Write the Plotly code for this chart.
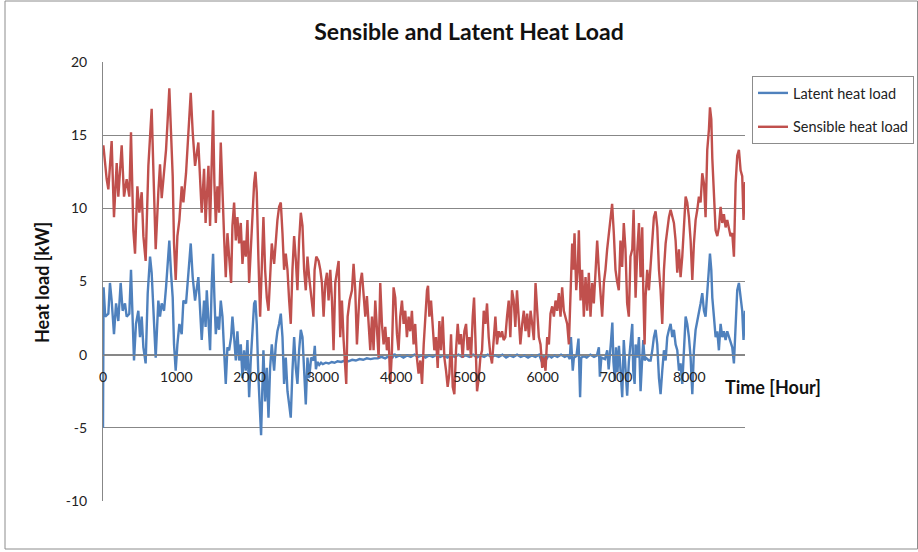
import plotly.graph_objects as go

# ---------------- data (hour, kW) ----------------
latent_points = [
    (0, -5.0), (8, 4.6), (30, 2.6), (73, 2.8), (95, 4.9), (118, 3.7), (150, 1.4), (178, 3.5),
    (209, 2.3), (241, 4.9), (268, 3.0), (300, 3.5), (323, 2.6), (359, 2.8), (382, 5.8), (405, 2.6),
    (423, -0.4), (450, 2.1), (482, 3.0), (505, 1.2), (528, 2.6), (551, 0.5), (582, -0.6), (610, 4.2),
    (642, 6.7), (664, 5.6), (687, 3.5), (719, -0.2), (755, 3.7), (778, 2.6), (801, 3.5), (833, 3.0),
    (860, 4.6), (883, 6.0), (905, 7.8), (928, 5.6), (951, 3.9), (969, 0.7), (992, -1.1), (1015, 0.7),
    (1042, 2.1), (1074, 1.4), (1097, 3.7), (1133, 3.5), (1165, 5.6), (1197, 7.6), (1224, 5.3),
    (1256, 3.7), (1301, 5.3), (1324, 3.0), (1347, 1.0), (1379, 3.7), (1400, 1.9), (1416, 4.4),
    (1439, 1.9), (1461, 0.3), (1484, 4.9), (1502, 6.9), (1520, 3.9), (1539, 1.4), (1561, 2.6),
    (1584, 1.7), (1607, 3.7), (1630, 2.6), (1652, 0.3), (1675, -2.0), (1698, 0.5), (1721, 0.3),
    (1748, 1.2), (1766, 2.6), (1789, 1.2), (1812, -0.4), (1834, 1.6), (1857, -0.4), (1880, 0.7),
    (1903, -1.6), (1925, 0.3), (1948, -1.1), (1971, 1.0), (1994, -2.9), (2016, -0.4), (2039, 1.2),
    (2062, 3.5), (2080, 3.7), (2098, 2.1), (2121, -1.6), (2144, -4.3), (2157, -5.5), (2176, -2.0),
    (2189, 0.3), (2212, -3.2), (2235, -0.9), (2258, -4.3), (2280, -0.9), (2303, 0.7), (2335, -1.1),
    (2358, 0.7), (2380, 1.6), (2403, 2.1), (2426, 2.8), (2449, 1.2), (2471, -2.0), (2494, -0.2),
    (2517, -2.5), (2540, -3.4), (2562, -4.3), (2585, -1.1), (2608, 1.2), (2631, -0.9), (2653, -2.0),
    (2676, 0.3), (2699, 1.7), (2722, 1.2), (2744, -1.6), (2767, -3.4), (2790, -0.2), (2813, -1.6),
    (2840, -0.2), (2872, -0.4),
    (2890, 0.6), (2905, -1.0), (2925, -0.5), (2950, -0.7), (2975, -0.55), (3000, -0.65), (3040, -0.55),
    (3080, -0.6), (3120, -0.5), (3160, -0.55), (3200, -0.45), (3250, -0.5), (3300, -0.4), (3350, -0.45),
    (3400, -0.35), (3450, -0.4), (3500, -0.3), (3550, -0.35), (3600, -0.25), (3650, -0.3),
    (3700, -0.25), (3750, -0.25), (3800, -0.15), (3850, -0.25), (3900, -0.1), (3950, -0.2), (3980, 0.05),
    (4000, -0.15), (4050, -0.05), (4100, -0.2), (4150, -0.05), (4200, -0.15), (4250, 0.0), (4300, -0.15),
    (4350, -0.05), (4400, -0.2), (4450, -0.05), (4500, -0.15), (4550, 0.0), (4600, -0.15), (4650, -0.05),
    (4700, -0.2), (4750, -0.05), (4800, -0.15), (4850, 0.0), (4900, -0.15), (4950, -0.05), (5000, -0.15),
    (5050, 0.0), (5100, -0.2), (5150, -0.05), (5200, -0.15), (5250, 0.0), (5300, -0.15), (5350, -0.05),
    (5400, -0.15), (5450, 0.0), (5500, -0.2), (5550, -0.05), (5600, -0.15), (5650, 0.0), (5700, -0.15),
    (5750, -0.05), (5800, -0.2), (5850, -0.05), (5900, -0.15), (5950, 0.0), (5990, -0.5), (6010, -0.1),
    (6040, -0.4), (6080, -0.05), (6120, -0.2), (6160, -0.05), (6200, -0.15), (6250, 0.0), (6300, -0.15),
    (6340, -0.05), (6370, -0.3), (6385, 1.2), (6400, -0.2), (6410, -1.1), (6425, -0.2), (6460, -0.1),
    (6488, 1.1), (6500, -1.0), (6510, -2.9), (6525, -0.2), (6560, -0.1), (6600, -0.2), (6650, 0.0),
    (6700, -0.15), (6740, -0.05), (6766, 0.5), (6780, -1.5), (6800, -0.2), (6850, -0.3), (6880, 0.3),
    (6900, -1.0), (6930, 0.8), (6950, 2.2), (6965, -0.5), (6985, -1.8), (7000, 0.5), (7020, -1.2),
    (7040, 0.6), (7061, -0.8), (7085, -2.9), (7106, 1.0), (7130, -0.8), (7152, -2.8), (7175, -0.5),
    (7197, 0.7), (7222, 2.1), (7235, -1.1), (7254, -2.0), (7267, 0.7), (7290, -0.2), (7313, 1.2),
    (7335, -2.5), (7358, -0.2), (7372, 1.0), (7390, -0.4), (7404, -0.2), (7449, -0.4), (7472, -0.4),
    (7495, 0.3), (7517, 1.2), (7540, 1.7), (7563, 0.7), (7586, -1.6), (7608, -2.7), (7631, -1.1),
    (7654, 0.3), (7677, -0.4), (7699, 1.2), (7722, 1.7), (7745, 2.1), (7768, 1.2), (7790, 1.7),
    (7813, 0.7), (7836, 0.3), (7859, -1.1), (7881, -0.6), (7904, -2.0), (7927, 0.7), (7950, 2.6),
    (7972, 2.1), (7995, 1.2), (8018, -0.2), (8041, -2.7), (8063, 0.3), (8086, 1.7), (8109, 2.3),
    (8131, 2.8), (8154, 3.5), (8177, 4.2), (8200, 3.0), (8222, 2.6), (8245, 4.4), (8268, 5.8),
    (8282, 6.9), (8300, 5.8), (8314, 3.9), (8336, 2.6), (8359, 1.2), (8382, 1.6), (8404, 0.3),
    (8427, 2.1), (8450, 1.2), (8472, 1.6), (8495, 1.0), (8518, 1.6), (8541, 1.2), (8563, 1.0),
    (8586, 0.5), (8609, -0.6), (8632, 2.6), (8654, 4.4), (8677, 4.9), (8700, 3.7), (8722, 3.0),
    (8740, 1.0), (8760, 3.0),
]

sensible_points = [
    (0, 14.0), (5, 14.3), (50, 12.0), (73, 11.3), (118, 14.6), (150, 9.4), (187, 13.1), (209, 10.8),
    (255, 14.3), (287, 10.8), (323, 12.0), (359, 10.8), (382, 15.2), (414, 8.5), (437, 6.9), (469, 11.5),
    (496, 9.7), (528, 11.1), (551, 8.1), (582, 6.4), (619, 12.9), (642, 15.4), (664, 16.8), (687, 12.7),
    (719, 7.2), (755, 11.1), (778, 13.0), (801, 10.7), (833, 12.4), (860, 14.0), (883, 16.1), (905, 18.2),
    (928, 15.2), (951, 12.2), (969, 7.6), (992, 5.1), (1015, 8.1), (1042, 9.2), (1074, 11.5),
    (1097, 10.4), (1133, 12.4), (1165, 15.2), (1197, 17.9), (1224, 15.2), (1256, 12.9), (1301, 14.5),
    (1324, 11.7), (1347, 9.7), (1379, 12.7), (1400, 9.0), (1420, 11.1), (1439, 12.9), (1461, 8.8),
    (1484, 14.7), (1502, 16.7), (1520, 11.7), (1539, 9.0), (1561, 11.5), (1584, 9.7), (1607, 14.5),
    (1630, 10.6), (1652, 8.1), (1675, 5.3), (1698, 8.3), (1721, 6.7), (1748, 4.9), (1766, 8.8),
    (1789, 10.4), (1812, 7.8), (1834, 9.4), (1857, 7.6), (1880, 9.0), (1903, 6.2), (1925, 7.8),
    (1948, 6.7), (1971, 9.2), (1994, 4.9), (2016, 7.2), (2039, 8.8), (2062, 11.7), (2080, 12.5),
    (2098, 11.1), (2121, 6.5), (2144, 2.6), (2167, 6.0), (2189, 9.4), (2212, 5.8), (2235, 3.9),
    (2258, 3.0), (2280, 5.8), (2303, 7.6), (2335, 6.2), (2358, 8.1), (2380, 9.2), (2403, 10.1),
    (2426, 10.4), (2449, 8.3), (2471, 5.8), (2494, 6.9), (2517, 5.8), (2540, 3.7), (2562, 2.1),
    (2585, 5.8), (2608, 8.1), (2631, 6.5), (2653, 4.4), (2676, 7.8), (2699, 9.7), (2722, 8.8),
    (2744, 5.8), (2767, 4.4), (2790, 6.7), (2813, 5.3), (2840, 3.9), (2872, 2.6), (2887, 5.8),
    (2910, 6.7), (2942, 6.4), (2965, 5.8), (2987, 4.9), (3010, 2.6), (3033, 4.9), (3056, 5.6),
    (3078, 3.7), (3101, 5.8), (3124, 3.7), (3146, 0.3), (3169, 4.9), (3192, 5.8), (3215, 6.4),
    (3237, 1.2), (3260, 3.7), (3283, 1.0), (3319, -2.0), (3338, 2.6), (3365, 3.7), (3397, 4.4),
    (3419, 6.2), (3442, 4.4), (3465, 0.7), (3488, 3.0), (3510, 4.9), (3533, 5.6), (3556, 4.0),
    (3579, 2.6), (3601, 4.0), (3624, 1.9), (3647, 0.3), (3670, 2.6), (3692, 0.3), (3715, 3.7),
    (3738, 1.6), (3761, -0.2), (3783, 4.9), (3806, 2.1), (3829, 0.7), (3852, 1.9), (3874, 0.3),
    (3897, 1.2), (3920, -2.0), (3943, 0.3), (3965, 4.6), (3988, 3.9), (4011, 1.4), (4033, 0.3),
    (4056, 2.6), (4079, 3.7), (4102, 2.1), (4124, 3.0), (4147, 1.2), (4170, 2.6), (4192, 1.6),
    (4215, 3.0), (4238, 0.7), (4260, 2.1), (4283, -0.2), (4306, -1.3), (4330, -0.4), (4353, -2.0),
    (4376, 0.7), (4399, 2.6), (4421, 4.4), (4435, 4.7), (4453, 2.6), (4476, 3.7), (4499, 1.9),
    (4521, 0.3), (4544, 1.2), (4567, -0.9), (4590, 2.3), (4612, 0.3), (4635, 2.6), (4658, -0.2),
    (4681, -1.1), (4703, -2.2), (4726, -1.3), (4749, 1.4), (4772, -2.2), (4794, -2.7), (4817, 0.3),
    (4840, 2.1), (4862, 0.7), (4885, 1.4), (4908, -0.2), (4931, 1.6), (4954, 2.1), (4976, 0.3),
    (4999, 1.2), (5022, -0.2), (5045, 2.6), (5063, 3.9), (5081, 1.2), (5104, -2.5), (5127, -1.6),
    (5149, -0.2), (5172, 0.3), (5195, 3.0), (5217, 2.1), (5240, 3.5), (5263, 1.2), (5285, 0.0),
    (5308, -0.6), (5331, 1.4), (5354, 2.6), (5376, 0.7), (5399, 1.6), (5422, 1.2), (5445, 1.6),
    (5467, 1.0), (5490, 1.2), (5513, 2.6), (5536, 3.7), (5558, 1.2), (5581, 4.4), (5604, 3.7),
    (5626, 1.9), (5649, 4.4), (5672, 2.6), (5695, 0.7), (5720, 2.1), (5742, 3.0), (5765, 1.6),
    (5788, 2.8), (5811, 1.2), (5834, 3.0), (5856, 2.1), (5879, 1.0), (5902, 4.9), (5925, 2.6),
    (5947, 1.2), (5970, 0.7), (5993, -0.9), (6016, -0.2), (6038, -1.1), (6061, 1.2), (6084, 0.7),
    (6106, 2.8), (6129, 3.3), (6152, 2.6), (6175, 3.7), (6197, 3.0), (6220, 4.2), (6243, 2.6),
    (6265, 4.6), (6288, 3.0), (6311, 2.6), (6334, 2.1), (6357, 0.7), (6379, 4.9), (6402, 7.6),
    (6416, 5.8), (6434, 8.3), (6457, 4.4), (6479, 6.0), (6493, 8.5), (6516, 3.7), (6538, 5.8),
    (6561, 2.6), (6584, 5.3), (6607, 3.0), (6629, 5.6), (6652, 2.6), (6675, 4.9), (6697, 3.5),
    (6720, 5.6), (6743, 7.8), (6766, 5.8), (6788, 3.9), (6811, 2.6), (6834, 4.9), (6856, 5.8),
    (6879, 7.2), (6902, 8.3), (6925, 9.0), (6947, 10.3), (6970, 8.3), (6993, 5.8), (7015, 5.0),
    (7038, 4.4), (7061, 7.8), (7084, 6.0), (7106, 9.0), (7129, 7.2), (7152, 3.5), (7175, 2.6),
    (7197, 6.7), (7222, 7.2), (7240, 9.9), (7254, 6.7), (7267, 3.9), (7290, 7.1), (7313, 9.0),
    (7335, 5.3), (7358, 8.7), (7372, 4.4), (7390, 0.7), (7404, 4.0), (7426, 5.8), (7449, 4.4),
    (7472, 6.0), (7495, 8.1), (7517, 9.4), (7540, 9.8), (7563, 8.7), (7586, 5.8), (7608, 4.4),
    (7631, 2.1), (7654, 5.8), (7677, 7.6), (7699, 8.5), (7722, 9.4), (7745, 9.9), (7768, 9.4),
    (7790, 9.0), (7813, 7.8), (7836, 5.6), (7859, 7.2), (7881, 5.3), (7904, 6.7), (7927, 9.0),
    (7950, 10.8), (7972, 10.4), (7995, 9.4), (8018, 7.8), (8041, 5.1), (8063, 7.6), (8086, 9.2),
    (8109, 9.9), (8131, 10.8), (8154, 10.4), (8177, 12.4), (8200, 11.7), (8222, 9.4), (8245, 14.0),
    (8268, 15.4), (8282, 16.9), (8300, 16.1), (8314, 13.4), (8336, 10.6), (8359, 8.5), (8382, 8.1),
    (8404, 8.7), (8427, 10.1), (8450, 9.0), (8472, 9.6), (8495, 8.7), (8518, 9.2), (8541, 8.7),
    (8563, 8.1), (8586, 8.3), (8609, 6.7), (8632, 11.7), (8654, 13.6), (8677, 14.0), (8700, 12.6),
    (8722, 12.2), (8740, 9.2), (8760, 11.8),
]

latent_hours = [p[0] for p in latent_points]
latent_kw = [p[1] for p in latent_points]
sensible_hours = [p[0] for p in sensible_points]
sensible_kw = [p[1] for p in sensible_points]

x_ticks = [0, 1000, 2000, 3000, 4000, 5000, 6000, 7000, 8000]
y_ticks = [-10, -5, 0, 5, 10, 15, 20]
y_ticktext = ["-10", "-5", "0", "5", "10", "15", "20"]

FONT = "Lato"
GRID = "#878787"

fig = go.Figure()
fig.add_trace(go.Scatter(x=latent_hours, y=latent_kw, mode="lines", name="Latent heat load",
                         legendgroup="a", line=dict(color="#4F81BD", width=2.4)))
fig.add_trace(go.Scatter(x=sensible_hours, y=sensible_kw, mode="lines", name="Sensible heat load",
                         legendgroup="b", line=dict(color="#C0504D", width=2.4)))

W, H = 918, 552
L, R, T, B = 103, 173, 62, 51
pw, ph = W - L - R, H - T - B

def px(x):
    return (x - L) / pw

def py(y):
    return (H - B - y) / ph

fig.update_layout(
    width=W, height=H,
    margin=dict(l=L, r=R, t=T, b=B, autoexpand=False),
    paper_bgcolor="white", plot_bgcolor="white",
    font=dict(family=FONT, size=14, color="#222222"),
    title=dict(text="<b>Sensible and Latent Heat Load</b>", x=469 / W, xref="container",
               xanchor="center", y=1 - 32 / H, yref="container", yanchor="middle",
               font=dict(family=FONT, size=23, color="#111111")),
    xaxis=dict(range=[0, 8760], tickvals=x_ticks, ticktext=[str(v) for v in x_ticks],
               anchor="free", position=1 / 3, showgrid=False, zeroline=False,
               showline=True, linecolor=GRID, linewidth=1, ticks="",
               ticklabelstandoff=10, tickfont=dict(size=14, color="#222222")),
    yaxis=dict(range=[-10, 20], tickvals=y_ticks, ticktext=y_ticktext, showgrid=True,
               gridcolor=GRID, gridwidth=1,
               zeroline=False, showline=True, linecolor=GRID, linewidth=1, ticks="",
               ticklabelstandoff=12, tickfont=dict(size=14, color="#222222")),
    legend=dict(x=px(752), y=py(76), xanchor="left", yanchor="top",
                bordercolor="#8c8c8c", borderwidth=1, bgcolor="white",
                font=dict(family=FONT, size=14.5, color="#222222"),
                tracegroupgap=12, itemwidth=30),
    showlegend=True,
    annotations=[
        dict(text="<b>Time [Hour]</b>", xref="paper", yref="paper", x=px(773), y=py(387),
             showarrow=False, xanchor="center", yanchor="middle",
             font=dict(family=FONT, size=18, color="#111111")),
        dict(text="<b>Heat load [kW]</b>", xref="paper", yref="paper", x=px(42), y=py(283),
             showarrow=False, textangle=-90, xanchor="center", yanchor="middle",
             font=dict(family=FONT, size=18, color="#111111")),
    ],
    shapes=[
        dict(type="rect", xref="paper", yref="paper", x0=px(5), x1=px(917.5), y0=py(549), y1=py(1),
             line=dict(color="#8c8c8c", width=1), fillcolor="rgba(0,0,0,0)", layer="below"),
    ],
)

fig.write_html("out.html", config={"displayModeBar": False},
               post_script="document.body.style.margin='0';document.body.style.padding='0';")
